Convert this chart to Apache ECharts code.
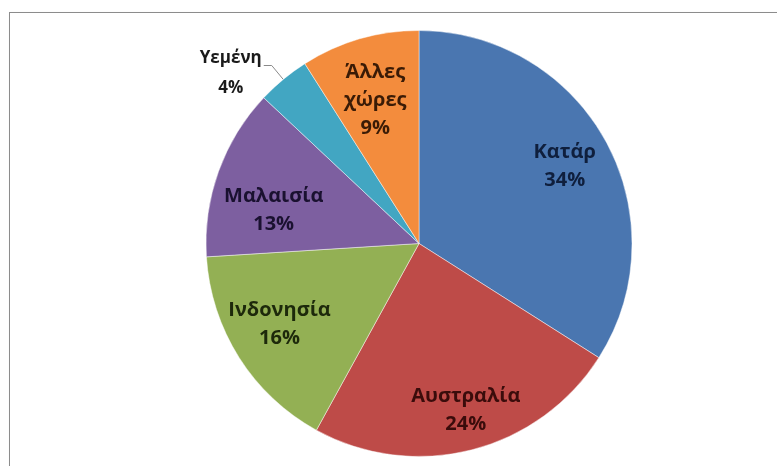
<!DOCTYPE html>
<html>
<head>
<meta charset="utf-8">
<script src="https://cdn.jsdelivr.net/npm/echarts@6/dist/echarts.min.js"></script>
<style>
  html, body { margin: 0; padding: 0; background: #ffffff; overflow: hidden; }
  #frame { position: absolute; left: 9px; top: 12px; width: 820px; height: 520px;
           border: 1px solid #8c8c8c; box-shadow: 1px 1px 2px rgba(0,0,0,0.15); }
  #chart { position: absolute; left: 0; top: 0; width: 777px; height: 466px; }
</style>
</head>
<body>
<div id="frame"></div>
<div id="chart"></div>
<script>
// Share of supply by country (%), clockwise from 12 o'clock
const countries = ['Κατάρ', 'Αυστραλία', 'Ινδονησία', 'Μαλαισία', 'Υεμένη', 'Άλλες χώρες'];
const shares = [34, 24, 16, 13, 4, 9];

const sliceColors = ['#4a76b0', '#be4b48', '#93b054', '#7d5fa0', '#42a6c2', '#f38c3d'];
const labelColors = ['#0f1f3d', '#3a0c0b', '#1d290b', '#1a1130', '#1a1a1a', '#3a1b06'];
const outsideLabel = 'Υεμένη';
// fine nudges for the in-slice labels (dx, dy in px)
const labelNudge = [[2, 2], [6, 8], [-1, -7], [9, 22], [0, 0], [2, 14]];

const chart = echarts.init(document.getElementById('chart'), null, { renderer: 'canvas' });

const font = {
  fontFamily: '"Open Sans", "Noto Sans", sans-serif',
  fontWeight: 'bold',
  fontSize: 20,
  lineHeight: 28
};

const fmt = p => p.name.replace(' ', '\n') + '\n' + p.value + '%';

// Filled slices (only the small slice carries an outside label with a leader line)
const sliceData = countries.map((name, i) => ({
  name,
  value: shares[i],
  itemStyle: { color: sliceColors[i] },
  label: name === outsideLabel ? {
    show: true,
    position: 'outside',
    padding: [16, 0, 0, 0],
    formatter: p => '{t|' + p.name + '}\n{t|' + p.value + '%}',
    rich: { t: Object.assign({}, font, { color: labelColors[i], align: 'center', fontSize: 17, lineHeight: 30 }) }
  } : { show: false },
  labelLine: { show: name === outsideLabel }
}));

// Transparent twin used to place the in-slice labels further out from the centre
const labelData = countries.map((name, i) => ({
  name,
  value: shares[i],
  label: {
    show: name !== outsideLabel,
    color: labelColors[i]
  }
}));

chart.setOption({
  animation: false,
  backgroundColor: 'transparent',
  series: [
    {
      type: 'pie',
      center: [419, 243.5],
      radius: [0, 213],
      startAngle: 90,
      clockwise: true,
      avoidLabelOverlap: false,
      silent: true,
      itemStyle: { borderColor: 'rgba(255,255,255,0.45)', borderWidth: 1 },
      labelLine: { length: 18, length2: 8, smooth: false,
                   lineStyle: { color: '#8a8a8a', width: 1 } },
      label: { distanceToLabelLine: 2 },
      data: sliceData
    },
    {
      type: 'pie',
      center: [419, 243.5],
      radius: [0, 322],
      startAngle: 90,
      clockwise: true,
      silent: true,
      avoidLabelOverlap: false,
      itemStyle: { color: 'rgba(0,0,0,0)' },
      label: Object.assign({ position: 'inside', formatter: fmt, align: 'center' }, font),
      labelLine: { show: false },
      labelLayout: p => ({ dx: labelNudge[p.dataIndex][0], dy: labelNudge[p.dataIndex][1] }),
      data: labelData
    }
  ]
});
</script>
</body>
</html>
